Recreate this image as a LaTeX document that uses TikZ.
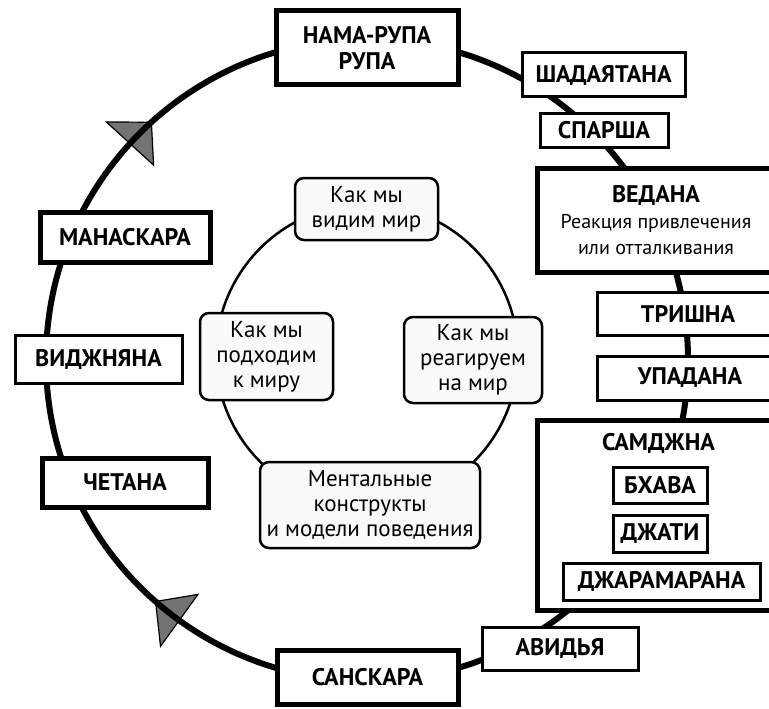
\documentclass[tikz,border=0pt]{standalone}
\usepackage{fontspec}
\setmainfont{PT Sans}
\usetikzlibrary{calc}
\begin{document}
\begin{tikzpicture}[x=1pt,y=-1pt,
  lbl/.style={draw=black, fill=white, line width=3pt, inner sep=0pt,
    font=\fontsize{24}{26}\selectfont\bfseries, align=center},
  heavy/.style={lbl, line width=5pt},
  worldbox/.style={draw=black, fill=black!2, line width=2.5pt, rounded corners=9pt,
    inner sep=0pt, align=center, font=\fontsize{23}{25}\selectfont},
  cyclearrow/.style={fill=black!55, draw=black, line width=1.2pt, line join=miter}]
\useasboundingbox (0,0) rectangle (769,709);
\clip (0,0) rectangle (769,709);

% arrowheads marking the direction of the cycle
\coordinate (C) at (367,360);
\foreach \a in {225,128.4} {
  \filldraw[cyclearrow] ($(C)+({\a+2.8}:321)$) -- ($(C)+({\a-2.6}:353)$)
    -- ($(C)+({\a-2.6}:289)$) -- cycle;
}
% outer cycle of the twelve links
\draw[line width=6pt] (C) circle[radius=321];

% inner circle
\coordinate (c) at (367,355);
\draw[line width=2.5pt] (c) circle[radius=151];

% links around the outer cycle
\node[heavy, minimum width=182pt, minimum height=74pt] (nama) at (367,48) {НАМА-РУПА\\РУПА};
\node[lbl, minimum width=163pt, minimum height=44pt] (shad) at (603.5,75) {ШАДАЯТАНА};
\node[lbl, minimum width=128pt, minimum height=34pt] (spar) at (604,130) {СПАРША};
\node[heavy, minimum width=238pt, minimum height=104pt] (vedana) at (656,220)
  {ВЕДАНА\\{\mdseries\fontsize{20}{24}\selectfont Реакция привлечения}\\{\mdseries\fontsize{20}{24}\selectfont или отталкивания}};
\node[lbl, minimum width=182pt, minimum height=43pt] (trishna) at (688,313.5) {ТРИШНА};
\node[lbl, minimum width=186pt, minimum height=44pt] (upadana) at (690,378) {УПАДАНА};
\node[heavy, minimum width=243pt, minimum height=190pt] (samdzhna) at (658.5,515) {};
\node[inner sep=0pt, font=\fontsize{24}{26}\selectfont\bfseries] (samtitle) at (658.5,443) {САМДЖНА};
\node[lbl, minimum width=94pt, minimum height=36pt] (bhava) at (660,485) {БХАВА};
\node[lbl, minimum width=94pt, minimum height=37pt] (dzhati) at (660,533.5) {ДЖАТИ};
\node[lbl, minimum width=197pt, minimum height=37pt] (dzhara) at (661.5,581.5) {ДЖАРАМАРАНА};
\node[lbl, minimum width=156pt, minimum height=43pt] (avidya) at (560,648.5) {АВИДЬЯ};
\node[heavy, minimum width=181pt, minimum height=54pt] (sanskara) at (367.5,677) {САНСКАРА};
\node[heavy, minimum width=166pt, minimum height=49pt] (chetana) at (125,482.5) {ЧЕТАНА};
\node[lbl, minimum width=167pt, minimum height=48pt] (vidzh) at (98.5,359) {ВИДЖНЯНА};
\node[heavy, minimum width=170pt, minimum height=50pt] (manas) at (125,237) {МАНАСКАРА};

% four aspects on the inner circle
\node[worldbox, minimum width=143pt, minimum height=62pt] (see) at (366.5,209) {Как мы\\видим мир};
\node[worldbox, minimum width=133pt, minimum height=87pt] (approach) at (266.5,356.5) {Как мы\\подходим\\к миру};
\node[worldbox, minimum width=138pt, minimum height=86pt] (react) at (473,360) {Как мы\\реагируем\\на мир};
\node[worldbox, minimum width=220pt, minimum height=86pt] (mental) at (370,505) {Ментальные\\конструкты\\и модели поведения};
\end{tikzpicture}
\end{document}
